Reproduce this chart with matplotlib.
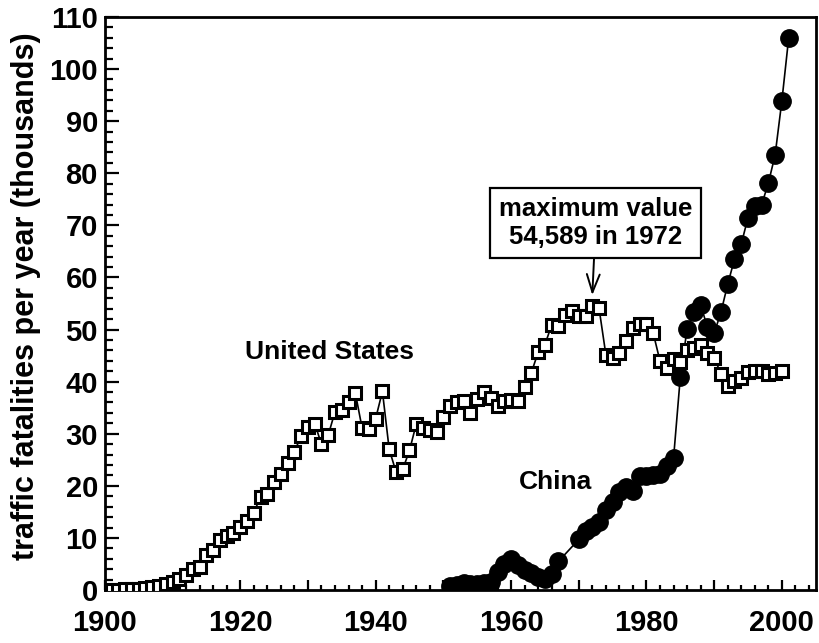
import numpy as np
import matplotlib.pyplot as plt
from matplotlib.ticker import MultipleLocator, FuncFormatter

plt.rcParams['font.family'] = ['Liberation Sans', 'DejaVu Sans']
plt.rcParams['font.weight'] = 'bold'

# US traffic fatalities (thousands), 1900-2000
us_years = list(range(1900, 2001))
us_vals = [0.04, 0.05, 0.08, 0.12, 0.17, 0.25, 0.34, 0.58, 0.75, 1.17,
           1.60, 2.04, 2.97, 4.08, 4.47, 6.78, 7.77, 9.63, 10.39, 10.90,
           12.16, 13.25, 14.86, 17.87, 18.40, 20.77, 22.19, 24.47, 26.56, 29.59,
           31.20, 31.96, 27.98, 29.75, 34.24, 34.49, 36.13, 37.82, 31.08, 30.90,
           32.91, 38.14, 27.01, 22.73, 23.17, 26.79, 31.87, 31.19, 30.78, 30.25,
           33.19, 35.31, 36.09, 36.19, 33.89, 36.69, 37.97, 36.93, 35.33, 36.22,
           36.40, 36.29, 38.98, 41.72, 45.65, 47.09, 50.89, 50.72, 52.73, 53.54,
           52.63, 52.54, 54.59, 54.05, 45.20, 44.53, 45.52, 47.88, 50.33, 51.09,
           51.09, 49.30, 43.95, 42.59, 44.26, 43.83, 46.09, 46.39, 47.09, 45.58,
           44.60, 41.51, 39.25, 40.15, 40.72, 41.82, 42.07, 42.01, 41.50, 41.72,
           41.95]

# China traffic fatalities (thousands)
cn_years = list(range(1951, 1968)) + list(range(1970, 2002))
cn_vals = [0.85, 1.0, 1.3, 1.2, 1.1, 1.3, 1.5, 3.5, 5.0, 6.0,
           4.8, 3.8, 3.2, 2.5, 2.2, 3.0, 5.5,
           9.7, 11.3, 12.1, 13.1, 15.4, 16.9, 18.9, 19.7, 19.1, 21.8,
           21.8, 22.0, 22.2, 23.9, 25.3, 40.9, 50.1, 53.4, 54.8, 50.4,
           49.3, 53.3, 58.7, 63.5, 66.4, 71.5, 73.7, 73.9, 78.1, 83.5,
           93.9, 105.9]

fig = plt.figure(figsize=(8.19, 6.43), dpi=100)
ax = fig.add_axes([0.128, 0.0824, 0.868, 0.8912])

ax.plot(cn_years, cn_vals, 'k-', lw=1.2, marker='o', ms=12.5,
        mfc='k', mec='k', zorder=2)
ax.plot(us_years, us_vals, 'k-', lw=1.2, marker='s', ms=8,
        mfc='white', mec='k', mew=2.2, zorder=3)

ax.set_xlim(1900, 2005)
ax.set_ylim(0, 110)

ax.xaxis.set_major_locator(MultipleLocator(10))
ax.xaxis.set_minor_locator(MultipleLocator(2))
ax.yaxis.set_major_locator(MultipleLocator(10))
ax.yaxis.set_minor_locator(MultipleLocator(2))
ax.xaxis.set_major_formatter(FuncFormatter(
    lambda v, p: '%d' % v if int(round(v)) % 20 == 0 else ''))

ax.tick_params(axis='both', which='both', direction='in', width=1.6,
               labelsize=21, top=False, right=False)
ax.tick_params(axis='x', which='major', length=7.5, pad=14)
ax.tick_params(axis='x', which='minor', length=3.5)
ax.tick_params(axis='y', which='major', length=10, pad=5)
ax.tick_params(axis='y', which='minor', length=6)
for s in ax.spines.values():
    s.set_linewidth(2.0)

ax.set_ylabel('traffic fatalities per year (thousands)', fontsize=22,
              fontweight='bold')
ax.yaxis.set_label_coords(-0.09, 0.513)

ax.text(1933.2, 45.7, 'United States', fontsize=19, ha='center', va='center')
ax.text(1966.6, 20.8, 'China', fontsize=19, ha='center', va='center')

ax.annotate('maximum value\n54,589 in 1972', xy=(1972, 56.6),
            xytext=(1972.5, 70.4), textcoords='data',
            ha='center', va='center', fontsize=18.5, linespacing=1.2,
            bbox=dict(boxstyle='square,pad=0.35', fc='white', ec='k', lw=1.6),
            arrowprops=dict(arrowstyle='->,head_length=0.7,head_width=0.25',
                            color='k', lw=1.4, shrinkA=0, shrinkB=0))

fig.savefig('out.png', dpi=100)
